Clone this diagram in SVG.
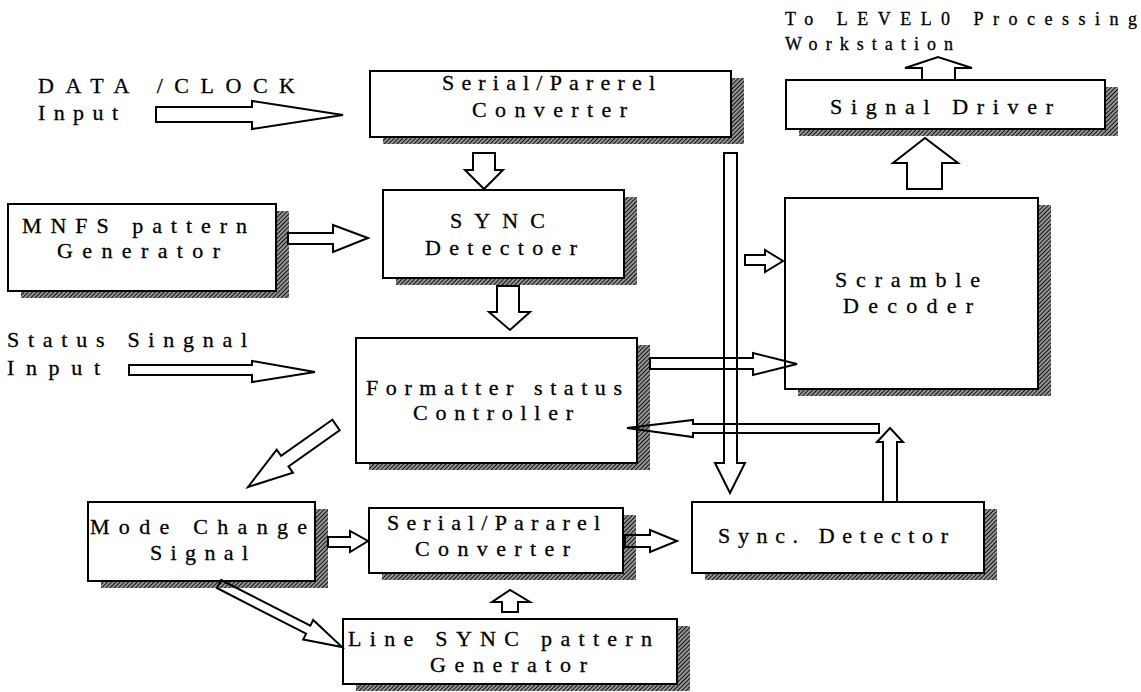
<svg xmlns="http://www.w3.org/2000/svg" width="1141" height="692" viewBox="0 0 1141 692">
<style>
.box{fill:#fff;stroke:#000;stroke-width:2}
.sh{fill:url(#hatch);stroke:none}
.arr{fill:none;stroke:#000;stroke-width:2;stroke-linejoin:miter}
text{font-family:"Liberation Serif","Times New Roman",serif;font-size:22px;fill:#000;stroke:#000;stroke-width:0.3}
.sm{font-size:18px}
</style>
<defs>
<pattern id="hatch" patternUnits="userSpaceOnUse" width="3" height="3" patternTransform="rotate(45)">
<rect width="3" height="3" fill="#fff"/>
<line x1="1.5" y1="0" x2="1.5" y2="3" stroke="#111" stroke-width="1.9"/>
</pattern>
</defs>
<rect width="1141" height="692" fill="#fff"/>

<g id="labels">
<text x="38" y="93" textLength="257" lengthAdjust="spacing">DATA /CLOCK</text>
<text x="38" y="120" textLength="80" lengthAdjust="spacing">Input</text>
<text x="7" y="347" textLength="240" lengthAdjust="spacing">Status Singnal</text>
<text x="7" y="375" textLength="93" lengthAdjust="spacing">Input</text>
<text class="sm" x="785" y="25" textLength="352" lengthAdjust="spacing">To LEVEL0 Processing</text>
<text class="sm" x="785" y="50" textLength="168" lengthAdjust="spacing">Workstation</text>
</g>

<g id="spc-top">
<rect class="sh" x="383" y="78" width="361" height="66"/>
<rect class="box" x="370" y="71" width="361" height="66"/>
<text x="442" y="90" textLength="213" lengthAdjust="spacing">Serial/Parerel</text>
<text x="472" y="117" textLength="155" lengthAdjust="spacing">Converter</text>
</g>

<g id="sync-detectoer">
<rect class="sh" x="396" y="197" width="241" height="88"/>
<rect class="box" x="383" y="190" width="241" height="88"/>
<text x="450" y="228" textLength="95" lengthAdjust="spacing">SYNC</text>
<text x="425" y="255" textLength="152" lengthAdjust="spacing">Detectoer</text>
</g>

<g id="signal-driver">
<rect class="sh" x="799" y="87" width="319" height="49"/>
<rect class="box" x="786" y="80" width="319" height="49"/>
<text x="830" y="114" textLength="223" lengthAdjust="spacing">Signal Driver</text>
</g>

<g id="scramble-decoder">
<rect class="sh" x="798" y="205" width="253" height="191"/>
<rect class="box" x="785" y="198" width="253" height="191"/>
<text x="835" y="287" textLength="145" lengthAdjust="spacing">Scramble</text>
<text x="843" y="313" textLength="130" lengthAdjust="spacing">Decoder</text>
</g>

<g id="mnfs">
<rect class="sh" x="21" y="211" width="268" height="87"/>
<rect class="box" x="8" y="204" width="268" height="87"/>
<text x="22" y="233" textLength="225" lengthAdjust="spacing">MNFS pattern</text>
<text x="57" y="258" textLength="163" lengthAdjust="spacing">Generator</text>
</g>

<g id="formatter">
<rect class="sh" x="369" y="345" width="281" height="125"/>
<rect class="box" x="356" y="338" width="281" height="125"/>
<text x="366" y="395" textLength="256" lengthAdjust="spacing">Formatter status</text>
<text x="413" y="420" textLength="160" lengthAdjust="spacing">Controller</text>
</g>

<g id="mode-change">
<rect class="sh" x="101" y="509" width="227" height="79"/>
<rect class="box" x="88" y="502" width="227" height="79"/>
<text x="90" y="534" textLength="217" lengthAdjust="spacing">Mode Change</text>
<text x="150" y="560" textLength="98" lengthAdjust="spacing">Signal</text>
</g>

<g id="spc-bottom">
<rect class="sh" x="382" y="515" width="254" height="65"/>
<rect class="box" x="369" y="508" width="254" height="65"/>
<text x="387" y="530" textLength="213" lengthAdjust="spacing">Serial/Pararel</text>
<text x="415" y="556" textLength="155" lengthAdjust="spacing">Converter</text>
</g>

<g id="sync-detector">
<rect class="sh" x="705" y="509" width="292" height="71"/>
<rect class="box" x="692" y="502" width="292" height="71"/>
<text x="718" y="543" textLength="230" lengthAdjust="spacing">Sync. Detector</text>
</g>

<g id="line-sync">
<rect class="sh" x="356" y="626" width="334" height="65"/>
<rect class="box" x="343" y="619" width="334" height="65"/>
<text x="348" y="646" textLength="304" lengthAdjust="spacing">Line SYNC pattern</text>
<text x="430" y="672" textLength="157" lengthAdjust="spacing">Generator</text>
</g>

<g id="connectors">
<polygon class="arr" points="156,107 252,107 252,101 343,115 252,129 252,122 156,122"/>
<polygon class="arr" points="473,153 495,153 495,170 503,170 484,189 465,170 473,170"/>
<polygon class="arr" points="288,233 333,233 333,225 368,238 333,252 333,244 288,244"/>
<polygon class="arr" points="497,286 519,286 519,312 530,312 510,330 489,312 497,312"/>
<polygon class="arr" points="724,153 737,153 737,463 745,463 730,493 715,463 724,463"/>
<polygon class="arr" points="745,255 765,255 765,250 783,261 765,272 765,265 745,265"/>
<polygon class="arr" points="907,189 907,163 893,163 925,138 958,163 942,163 942,189"/>
<polygon class="arr" points="922,80 922,68 905,68 938,57 972,68 955,68 955,80"/>
<polygon class="arr" points="129,365 252,365 252,361 315,372 252,382 252,375 129,375"/>
<polygon class="arr" points="650,358 753,358 753,353 797,364 753,375 753,369 650,369"/>
<polygon class="arr" points="879,424 693,424 693,420 627,428 693,437 693,433 879,433"/>
<polygon class="arr" points="883,502 883,442 877,442 890,428 903,442 897,442 897,502"/>
<polygon class="arr" points="332.3,419.7 281.1,455.8 276.7,449.6 248,487 292.9,472.6 288.5,466.4 339.7,430.3"/>
<polygon class="arr" points="221.1,580 310.3,625.7 313.2,619.9 342,647 303.2,639.5 306.1,633.7 216.9,588"/>
<polygon class="arr" points="328,537 350,537 350,531 368,541 350,552 350,547 328,547"/>
<polygon class="arr" points="625,535 650,535 650,530 677,541 650,552 650,547 625,547"/>
<polygon class="arr" points="502,612 502,602 492,602 510,590 530,602 518,602 518,612"/>
</g>
</svg>
